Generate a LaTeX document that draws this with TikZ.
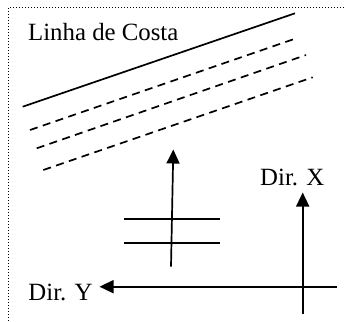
\documentclass[tikz,border=0pt]{standalone}
\usepackage{fontspec}
\setmainfont{Liberation Serif}
\usetikzlibrary{arrows.meta}
\tikzset{
  lbl/.style={inner sep=0pt, anchor=base west, font=\fontsize{24.8bp}{30bp}\selectfont},
  solidline/.style={line width=1.7bp},
  dashline/.style={line width=1.7bp, dash pattern=on 8bp off 5.5bp},
  arr/.style={line width=1.7bp, -{Triangle[length=14bp,width=13bp]}},
  frame/.style={line width=1.4bp, dash pattern=on 1.4bp off 1.6bp}
}
\begin{document}
\begin{tikzpicture}[x=1bp,y=-1bp]
\useasboundingbox (0,0) rectangle (344,322);
% frame
\coordinate (fc) at (8.5,7.5);
\coordinate (fr) at (344,7.5);
\coordinate (fb) at (8.5,322);
\draw[frame] (fr) -- (fc) -- (fb);
% texts
\node[lbl] (costa) at (28,40.5) {Linha de Costa};
\node[lbl] (dirx) at (260,185) {Dir. X};
\node[lbl] (diry) at (28.3,300) {Dir. Y};
% coast line and dashed lines
\coordinate (s1) at (22.7,106.7); \coordinate (s2) at (295,13.3);
\coordinate (d1a) at (30,130);    \coordinate (d1b) at (298,37.7);
\coordinate (d2a) at (36.7,148.3);\coordinate (d2b) at (306,55);
\coordinate (d3a) at (43.3,170);  \coordinate (d3b) at (312.7,77.3);
\draw[solidline] (s1) -- (s2);
\draw[dashline] (d1a) -- (d1b);
\draw[dashline] (d2a) -- (d2b);
\draw[dashline] (d3a) -- (d3b);
% middle arrow and bars
\coordinate (ma) at (171,266.7); \coordinate (mb) at (173.3,149.5);
\draw[arr] (ma) -- (mb);
\coordinate (h1a) at (124,219.3); \coordinate (h1b) at (220,219.3);
\coordinate (h2a) at (124,242.7); \coordinate (h2b) at (220,242.7);
\draw[solidline] (h1a) -- (h1b);
\draw[solidline] (h2a) -- (h2b);
% axes
\coordinate (xa) at (302.7,314.3); \coordinate (xb) at (302.7,192.5);
\coordinate (ya) at (336.7,286.7); \coordinate (yb) at (99.5,286.7);
\draw[arr] (xa) -- (xb);
\draw[arr] (ya) -- (yb);
\end{tikzpicture}
\end{document}
